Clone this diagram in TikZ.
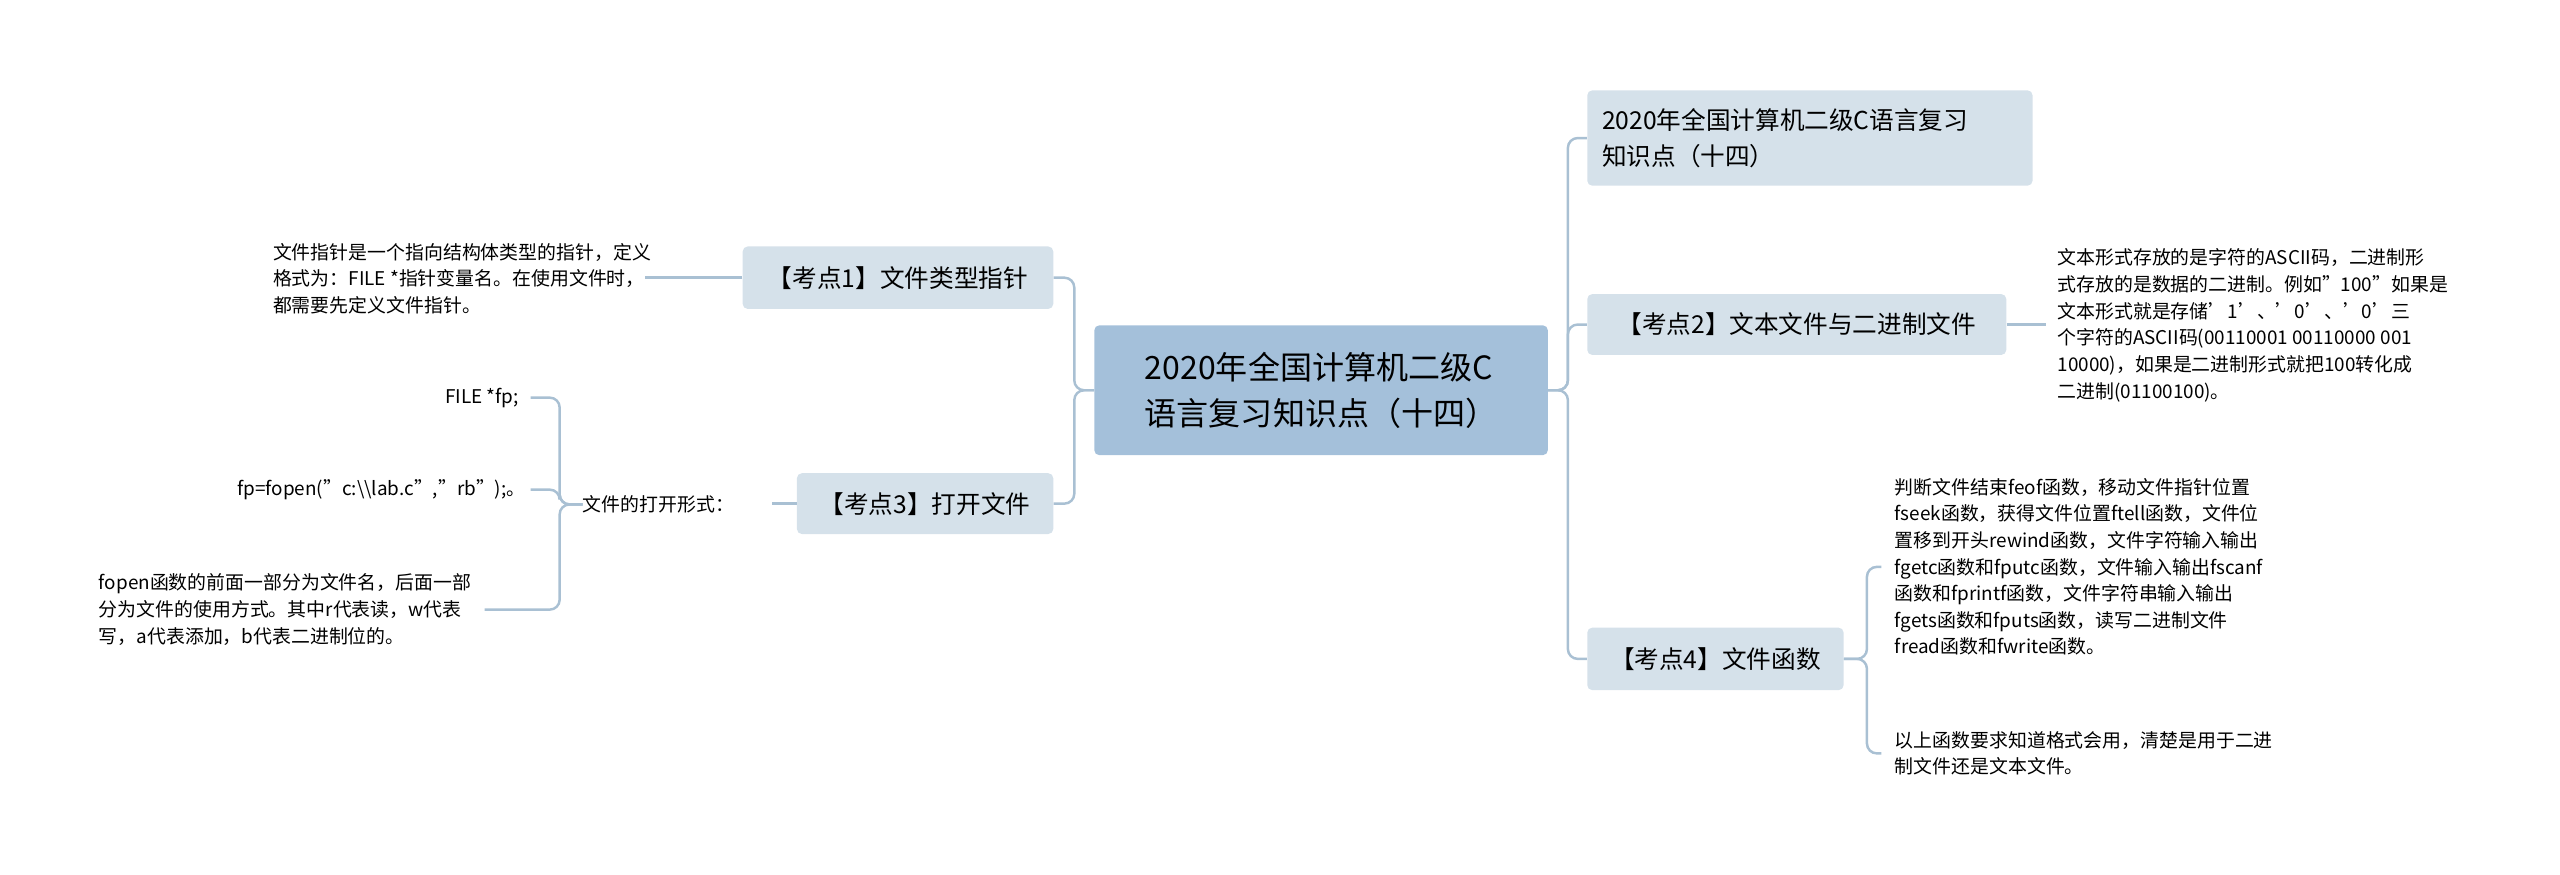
\documentclass[tikz,border=0pt]{standalone}
\usepackage{fontspec}
\setmainfont{Noto Sans CJK SC}
\begin{document}
\begin{tikzpicture}[x=1pt,y=-1pt,
 box/.style={fill=boxc,rounded corners=3pt,inner sep=0pt,text=black},
 leaf/.style={inner sep=0pt,font=\fontsize{11.5}{16.2}\selectfont,align=left},
 con/.style={draw=linec,line width=1.5pt,rounded corners=6pt}]
\definecolor{boxc}{HTML}{D5E1EA}
\definecolor{mainc}{HTML}{A4C0DA}
\definecolor{linec}{HTML}{A9C0D3}
\useasboundingbox (0,0) rectangle (1558,532);
% main
\node[box,fill=mainc,minimum width=276,minimum height=79,font=\fontsize{19.5}{28}\selectfont,align=left] (c) at (804,237.5) {2020年全国计算机二级C\\语言复习知识点（十四）};
% right
\node[box,minimum width=271,minimum height=58,text width=253,align=left,font=\fontsize{15}{22}\selectfont] (r1) at (1101.5,84) {2020年全国计算机二级C语言复习\\知识点（十四）};
\node[box,minimum width=255,minimum height=37,font=\fontsize{15}{20}\selectfont] (r2) at (1093.5,197.5) {【考点2】文本文件与二进制文件};
\node[box,minimum width=156,minimum height=38,font=\fontsize{15}{20}\selectfont] (r4) at (1044,401) {【考点4】文件函数};
% left
\node[box,minimum width=189,minimum height=38,font=\fontsize{15}{20}\selectfont] (l1) at (546.5,169) {【考点1】文件类型指针};
\node[box,minimum width=156,minimum height=37,font=\fontsize{15}{20}\selectfont] (l3) at (563,306.5) {【考点3】打开文件};
% leaves
\node[leaf,anchor=west] (t1) at (166,169.5) {文件指针是一个指向结构体类型的指针，定义\\格式为：FILE *指针变量名。在使用文件时，\\都需要先定义文件指针。};
\node[leaf,anchor=east] (t3) at (447,307) {文件的打开形式：};
\node[leaf,anchor=east] (a1) at (316,242) {FILE *fp;};
\node[leaf,anchor=east] (a2) at (320,298) {fp=fopen("c:\textbackslash\textbackslash lab.c","rb");。};
\node[leaf,anchor=west] (a3) at (60,371) {fopen函数的前面一部分为文件名，后面一部\\分为文件的使用方式。其中r代表读，w代表\\写，a代表添加，b代表二进制位的。};
\node[leaf,anchor=west] (t2) at (1252,198) {文本形式存放的是字符的ASCII码，二进制形\\式存放的是数据的二进制。例如"100"如果是\\文本形式就是存储’1’、’0’、’0’三\\个字符的ASCII码(00110001 00110000 001\\10000)，如果是二进制形式就把100转化成\\二进制(01100100)。};
\node[leaf,anchor=west] (b1) at (1153,345) {判断文件结束feof函数，移动文件指针位置\\fseek函数，获得文件位置ftell函数，文件位\\置移到开头rewind函数，文件字符输入输出\\fgetc函数和fputc函数，文件输入输出fscanf\\函数和fprintf函数，文件字符串输入输出\\fgets函数和fputs函数，读写二进制文件\\fread函数和fwrite函数。};
\node[leaf,anchor=west] (b2) at (1153,458.5) {以上函数要求知道格式会用，清楚是用于二进\\制文件还是文本文件。};
% connectors
\draw[con] (c.east) -- ++(12,0) |- (r1.west);
\draw[con] (c.east) -- ++(12,0) |- (r2.west);
\draw[con] (c.east) -- ++(12,0) |- (r4.west);
\draw[con] (c.west) -- ++(-12,0) |- (l1.east);
\draw[con] (c.west) -- ++(-12,0) |- (l3.east);
\draw[con] (l1.west) -- ([xshift=-4pt]t1.east|-l1.west);
\draw[con] (l3.west) -- ([xshift=-15pt]l3.west);
\draw[con] (t3.west) -- ++(-14,0) |- ([xshift=7pt]a1.east);
\draw[con] (t3.west) -- ++(-14,0) |- ([xshift=3pt]a2.east);
\draw[con] (t3.west) -- ++(-14,0) |- ([xshift=8pt]a3.east);
\draw[con] (r2.east) -- ([xshift=-7pt]t2.west|-r2.east);
\draw[con] (r4.east) -- ++(14,0) |- ([xshift=-8pt]b1.west);
\draw[con] (r4.east) -- ++(14,0) |- ([xshift=-8pt]b2.west);
\end{tikzpicture}
\end{document}
